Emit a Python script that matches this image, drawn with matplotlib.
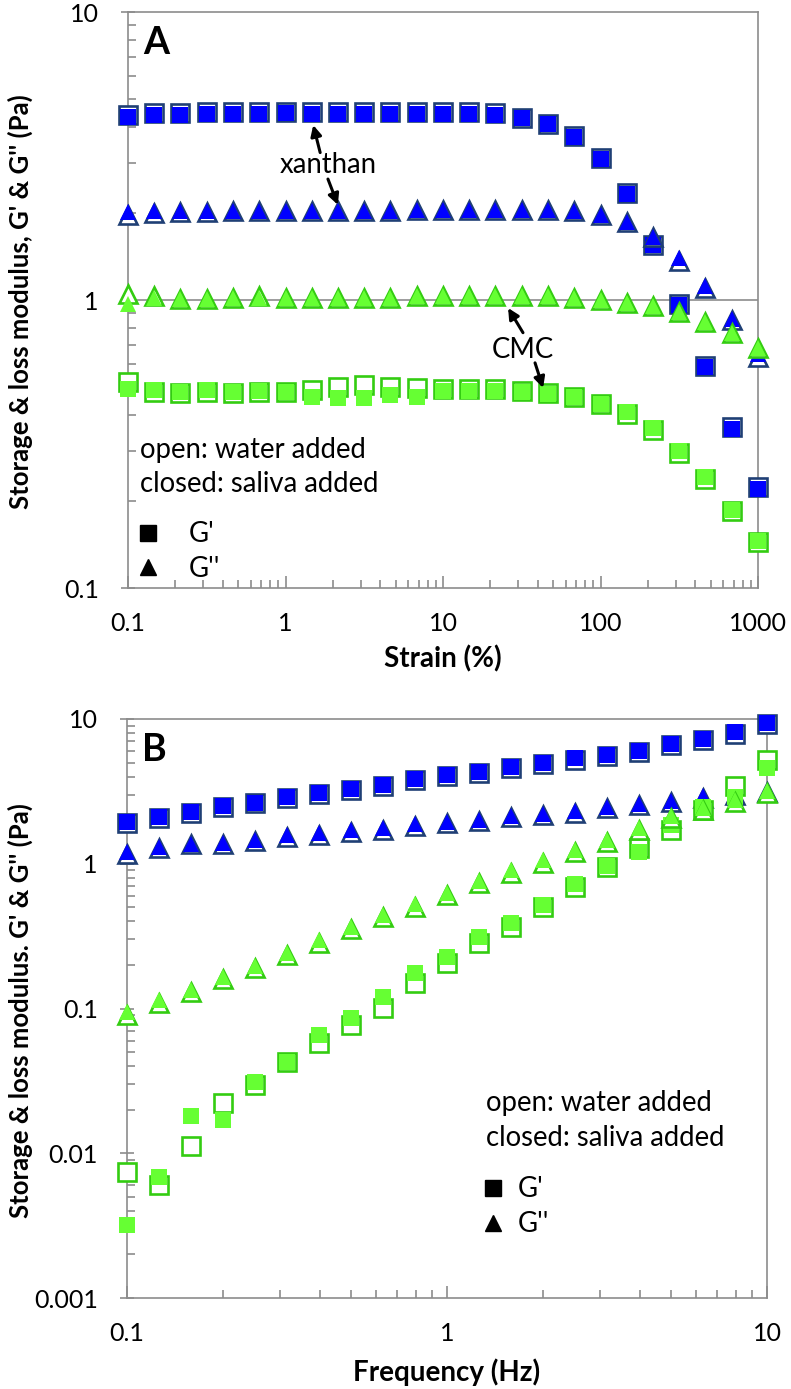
import matplotlib
matplotlib.use("Agg")
import matplotlib.pyplot as plt
from matplotlib.lines import Line2D
from matplotlib.ticker import FixedLocator, NullFormatter

plt.rcParams['font.family'] = ['Lato', 'DejaVu Sans']

# ---------------- Panel A data (strain sweep) ----------------
strain = [0.1, 0.147, 0.215, 0.316, 0.464, 0.681, 1.0, 1.47, 2.15, 3.16, 4.64, 6.81,
          10, 14.7, 21.5, 31.6, 46.4, 68.1, 100, 147, 215, 316, 464, 681, 1000]

xan_Gp_water = [4.39, 4.46, 4.46, 4.48, 4.48, 4.48, 4.48, 4.50, 4.50, 4.50, 4.50, 4.50,
                4.50, 4.50, 4.45, 4.30, 4.10, 3.70, 3.10, 2.35, 1.55, 0.97, 0.59, 0.362, 0.224]
xan_Gp_saliva = [4.33, 4.40, 4.40, 4.42, 4.42, 4.42, 4.47, 4.44, 4.44, 4.44, 4.44, 4.44,
                 4.44, 4.44, 4.39, 4.27, 4.07, 3.68, 3.08, 2.33, 1.55, 0.96, 0.585, 0.356, 0.220]
xan_Gpp_water = [1.98, 2.00, 2.02, 2.02, 2.03, 2.03, 2.03, 2.03, 2.04, 2.04, 2.04, 2.05,
                 2.05, 2.05, 2.05, 2.05, 2.05, 2.03, 1.97, 1.87, 1.66, 1.37, 1.10, 0.85, 0.634]
xan_Gpp_saliva = [2.02, 2.03, 2.03, 2.03, 2.03, 2.03, 2.03, 2.03, 2.04, 2.04, 2.04, 2.05,
                  2.05, 2.05, 2.05, 2.05, 2.05, 2.03, 1.97, 1.87, 1.66, 1.40, 1.12, 0.86, 0.650]
cmc_Gpp_water = [1.05, 1.03, 1.01, 1.01, 1.02, 1.03, 1.02, 1.02, 1.02, 1.02, 1.02, 1.03,
                 1.03, 1.03, 1.03, 1.03, 1.03, 1.02, 1.00, 0.98, 0.95, 0.91, 0.84, 0.77, 0.68]
cmc_Gpp_saliva = [0.97, 1.02, 1.01, 1.01, 1.02, 1.02, 1.02, 1.02, 1.02, 1.02, 1.02, 1.03,
                  1.03, 1.03, 1.03, 1.03, 1.03, 1.02, 1.00, 0.98, 0.95, 0.91, 0.84, 0.77, 0.68]
cmc_Gp_water = [0.52, 0.479, 0.476, 0.479, 0.476, 0.479, 0.479, 0.487, 0.498, 0.507, 0.498, 0.495,
                0.49, 0.49, 0.49, 0.485, 0.476, 0.461, 0.435, 0.402, 0.354, 0.294, 0.239, 0.185, 0.144]
cmc_Gp_saliva = [0.49, 0.487, 0.478, 0.487, 0.478, 0.482, 0.479, 0.462, 0.457, 0.458, 0.468, 0.461,
                 0.484, 0.484, 0.484, 0.480, 0.472, 0.461, 0.437, 0.407, 0.358, 0.298, 0.242, 0.187, 0.146]

# ---------------- Panel B data (frequency sweep) ----------------
freq = [0.1, 0.126, 0.158, 0.2, 0.251, 0.316, 0.398, 0.501, 0.631, 0.794, 1.0,
        1.26, 1.58, 2.0, 2.51, 3.16, 3.98, 5.01, 6.31, 7.94, 10.0]

fxan_Gp_saliva = [1.95, 2.10, 2.28, 2.50, 2.64, 2.90, 3.08, 3.28, 3.50, 3.85, 4.10,
                  4.30, 4.65, 4.95, 5.35, 5.65, 6.05, 6.70, 7.30, 8.10, 9.40]
fxan_Gp_water = [1.91, 2.06, 2.23, 2.45, 2.64, 2.84, 3.02, 3.21, 3.43, 3.77, 4.02,
                 4.21, 4.56, 4.85, 5.24, 5.54, 5.93, 6.57, 7.15, 7.94, 9.21]
fxan_Gpp_saliva = [1.20, 1.30, 1.36, 1.40, 1.47, 1.57, 1.62, 1.70, 1.76, 1.87, 1.95,
                   2.00, 2.14, 2.20, 2.30, 2.48, 2.60, 2.72, 2.92, 3.05, 3.20]
fxan_Gpp_water = [1.17, 1.28, 1.36, 1.37, 1.44, 1.54, 1.59, 1.67, 1.72, 1.83, 1.91,
                  1.96, 2.10, 2.16, 2.25, 2.43, 2.55, 2.67, 2.86, 2.99, 3.12]
fcmc_Gpp_water = [0.0904, 0.110, 0.130, 0.160, 0.190, 0.235, 0.285, 0.355, 0.430, 0.505, 0.610,
                  0.740, 0.870, 1.02, 1.21, 1.42, 1.72, 2.08, 2.36, 2.68, 3.10]
fcmc_Gpp_saliva = [0.094, 0.114, 0.135, 0.166, 0.197, 0.243, 0.295, 0.367, 0.445, 0.523, 0.631,
                   0.766, 0.900, 1.06, 1.25, 1.47, 1.78, 2.15, 2.44, 2.77, 3.20]
fcmc_Gp_water = [0.00745, 0.00605, 0.0113, 0.0223, 0.0297, 0.0428, 0.058, 0.077, 0.101, 0.150, 0.207,
                 0.285, 0.367, 0.505, 0.690, 0.950, 1.29, 1.72, 2.36, 3.46, 5.20]
fcmc_Gp_saliva = [0.0032, 0.0069, 0.0182, 0.0170, 0.031, 0.0428, 0.066, 0.086, 0.120, 0.177, 0.228,
                  0.310, 0.390, 0.520, 0.720, 0.960, 1.21, 1.86, 2.48, 2.90, 4.60]

# ---------------- styling ----------------
NAVY = '#1F3F75'
BLUE = '#0000FF'
GEDGE = '#33CC11'
GFILL = '#66FF33'
SPINE = '#8C8C8C'
FS = 18        # tick labels
FS_LAB = 20    # axis titles
FS_TXT = 19.8  # annotations / legend text
MS_OPEN = 12.6
MEW = 1.9
MS_FILL = 11.0


def plot_pair(ax, x, water, saliva, marker, edge, fill):
    ax.plot(x, water, ls='none', marker=marker, ms=MS_OPEN, mfc='white', mec=edge,
            mew=MEW, zorder=3, clip_on=False)
    ax.plot(x, saliva, ls='none', marker=marker, ms=MS_FILL, mfc=fill, mec='none',
            mew=0, zorder=3, clip_on=False)


def style_axes(ax, xmaj, ymaj, xlabels, ylabels):
    ax.set_xscale('log')
    ax.set_yscale('log')
    for s in ax.spines.values():
        s.set_color(SPINE)
        s.set_linewidth(1.2)
    ax.xaxis.set_major_locator(FixedLocator(xmaj))
    ax.yaxis.set_major_locator(FixedLocator(ymaj))
    ax.set_xticklabels(xlabels)
    ax.set_yticklabels(ylabels)
    ax.xaxis.set_minor_formatter(NullFormatter())
    ax.yaxis.set_minor_formatter(NullFormatter())
    ax.tick_params(axis='both', which='both', color=SPINE, width=1.2, labelsize=FS,
                   labelcolor='black', top=False, right=False)
    ax.tick_params(axis='x', which='major', direction='in', length=9, pad=17)
    ax.tick_params(axis='x', which='minor', direction='in', length=6)
    ax.tick_params(axis='y', which='major', direction='inout', length=10, pad=16)
    ax.tick_params(axis='y', which='minor', direction='in', length=6)


fig = plt.figure(figsize=(7.91, 13.89), dpi=100)

# ---------------- Panel A ----------------
axA = fig.add_axes([128 / 791, 1 - 588 / 1389, 630 / 791, 576 / 1389])
axA.axhline(1.0, color=SPINE, lw=1.2, zorder=1)
plot_pair(axA, strain, xan_Gp_water, xan_Gp_saliva, 's', NAVY, BLUE)
plot_pair(axA, strain, xan_Gpp_water, xan_Gpp_saliva, '^', NAVY, BLUE)
plot_pair(axA, strain, cmc_Gp_water, cmc_Gp_saliva, 's', GEDGE, GFILL)
plot_pair(axA, strain, cmc_Gpp_water, cmc_Gpp_saliva, '^', GEDGE, GFILL)
axA.set_xlim(0.1, 1000)
axA.set_ylim(0.1, 10)
style_axes(axA, [0.1, 1, 10, 100, 1000], [0.1, 1, 10],
           ['0.1', '1', '10', '100', '1000'], ['0.1', '1', '10'])
axA.set_xlabel('Strain (%)', fontsize=FS_LAB, fontweight='bold')
axA.xaxis.set_label_coords(0.499, -0.100)
axA.set_ylabel("Storage & loss modulus, G' & G'' (Pa)", fontsize=18.5, fontweight='bold')
axA.yaxis.set_label_coords(-0.151, 0.498)
axA.text(0.024, 0.975, 'A', transform=axA.transAxes, fontsize=27, fontweight='bold',
         va='top', ha='left')

arrow = dict(arrowstyle='-|>', color='black', lw=2.2, mutation_scale=16, shrinkA=0, shrinkB=0)
axA.text(1.86, 2.94, 'xanthan', fontsize=FS_TXT, ha='center', va='center')
axA.annotate('', xy=(1.50, 4.05), xytext=(1.66, 3.25), arrowprops=arrow)
axA.annotate('', xy=(2.15, 2.14), xytext=(1.86, 2.63), arrowprops=arrow)
axA.text(32.2, 0.67, 'CMC', fontsize=FS_TXT, ha='center', va='center')
axA.annotate('', xy=(25.9, 0.938), xytext=(32.2, 0.77), arrowprops=arrow)
axA.annotate('', xy=(43.2, 0.495), xytext=(38.4, 0.605), arrowprops=arrow)

axA.text(0.019, 0.2396, 'open: water added', transform=axA.transAxes, fontsize=FS_TXT,
         va='center', ha='left')
axA.text(0.019, 0.1806, 'closed: saliva added', transform=axA.transAxes, fontsize=FS_TXT,
         va='center', ha='left')
handles = [Line2D([], [], ls='none', marker='s', color='black', ms=11),
           Line2D([], [], ls='none', marker='^', color='black', ms=12)]
axA.legend(handles, ["G'", "G''"], loc='upper left', bbox_to_anchor=(0.012, 0.116),
           frameon=False, fontsize=FS_TXT, borderpad=0, borderaxespad=0,
           handlelength=0.9, handletextpad=1.05, labelspacing=0.32, numpoints=1)

# ---------------- Panel B ----------------
axB = fig.add_axes([127 / 791, 1 - 1298 / 1389, 640 / 791, 579 / 1389])
plot_pair(axB, freq, fxan_Gp_water, fxan_Gp_saliva, 's', NAVY, BLUE)
plot_pair(axB, freq, fxan_Gpp_water, fxan_Gpp_saliva, '^', NAVY, BLUE)
plot_pair(axB, freq, fcmc_Gp_water, fcmc_Gp_saliva, 's', GEDGE, GFILL)
plot_pair(axB, freq, fcmc_Gpp_water, fcmc_Gpp_saliva, '^', GEDGE, GFILL)
axB.set_xlim(0.1, 10)
axB.set_ylim(0.001, 10)
style_axes(axB, [0.1, 1, 10], [0.001, 0.01, 0.1, 1, 10],
           ['0.1', '1', '10'], ['0.001', '0.01', '0.1', '1', '10'])
axB.set_xlabel('Frequency (Hz)', fontsize=FS_LAB, fontweight='bold')
axB.xaxis.set_label_coords(0.5, -0.105)
axB.set_ylabel("Storage & loss modulus. G' & G'' (Pa)", fontsize=18.5, fontweight='bold')
axB.yaxis.set_label_coords(-0.147, 0.497)
axB.text(0.024, 0.975, 'B', transform=axB.transAxes, fontsize=27, fontweight='bold',
         va='top', ha='left')

axB.text(0.561, 0.3368, 'open: water added', transform=axB.transAxes, fontsize=FS_TXT,
         va='center', ha='left')
axB.text(0.561, 0.2763, 'closed: saliva added', transform=axB.transAxes, fontsize=FS_TXT,
         va='center', ha='left')
axB.legend(handles, ["G'", "G''"], loc='upper left', bbox_to_anchor=(0.552, 0.210),
           frameon=False, fontsize=FS_TXT, borderpad=0, borderaxespad=0,
           handlelength=0.9, handletextpad=0.45, labelspacing=0.32, numpoints=1)

fig.savefig('out.png', dpi=100)
